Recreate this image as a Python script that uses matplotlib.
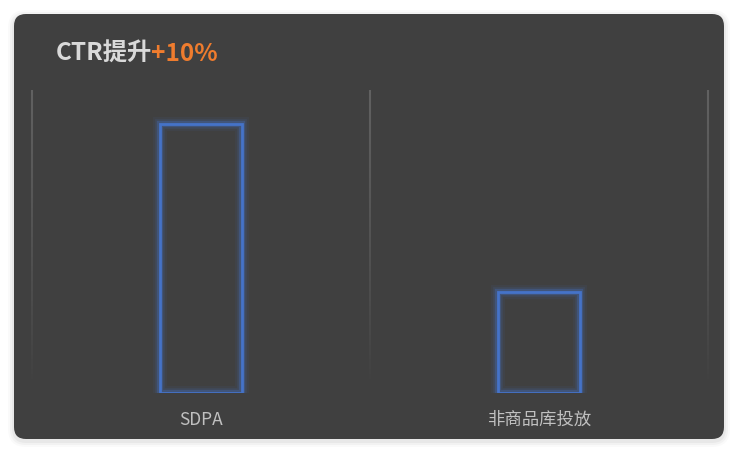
import matplotlib
matplotlib.use("Agg")
import matplotlib.pyplot as plt
import numpy as np
from matplotlib.patches import FancyBboxPatch
from matplotlib.collections import LineCollection
import matplotlib.patheffects as pe
import matplotlib.transforms as mtransforms

plt.rcParams['font.family'] = ['Noto Sans CJK SC', 'DejaVu Sans']

categories = ['SDPA', '非商品库投放']
values = [8, 3]
title_main = 'CTR提升'
title_accent = '+10%'

W, H = 738, 453
fig = plt.figure(figsize=(W / 100, H / 100), dpi=100)
fig.patch.set_facecolor('white')

# card shadow + card
for i, a in enumerate([0.02, 0.03, 0.04]):
    pad = (3 - i) * 2
    sh = FancyBboxPatch(((14 - pad) / W, (H - 439 - pad - 2) / H), (710 + 2 * pad) / W, (425 + 2 * pad) / H,
                        boxstyle=f"round,pad=0,rounding_size={(12 + pad) / W}",
                        transform=fig.transFigure, facecolor='black', edgecolor='none', alpha=a,
                        mutation_aspect=W / H, zorder=-3)
    fig.patches.append(sh)
card = FancyBboxPatch((14 / W, (H - 439) / H), 710 / W, 425 / H,
                      boxstyle=f"round,pad=0,rounding_size={12 / W}",
                      transform=fig.transFigure, facecolor='#404040', edgecolor='none',
                      mutation_aspect=W / H, zorder=-2)
fig.patches.append(card)

ax = fig.add_axes([32 / W, (H - 393) / H, 676 / W, 303 / H])
ax.set_facecolor('none')
ax.set_zorder(1)
ax.set_xlim(-0.5, len(categories) - 0.5)
ax.set_ylim(0, 9)
for s in ax.spines.values():
    s.set_visible(False)
ax.set_yticks([])

# gradient vertical grid lines
trans = mtransforms.blended_transform_factory(ax.transData, ax.transAxes)
n = 60
ys = np.linspace(0.03, 1.0, n + 1)
for xb in np.arange(-0.5, len(categories), 1.0):
    segs = [[(xb, ys[k]), (xb, ys[k + 1])] for k in range(n)]
    alphas = np.linspace(0.0, 1.0, n) ** 0.8
    cols = [(0.38, 0.38, 0.38, a) for a in alphas]
    lc = LineCollection(segs, colors=cols, linewidths=1.5, transform=trans, clip_on=False)
    ax.add_collection(lc)

blue = '#4573c8'
x = np.arange(len(categories))
bars = ax.bar(x, values, width=0.243, facecolor='none', edgecolor=blue, linewidth=2.0, zorder=3)
for b in bars:
    b.set_path_effects([
        pe.Stroke(linewidth=10, foreground=blue, alpha=0.07),
        pe.Stroke(linewidth=7, foreground=blue, alpha=0.13),
        pe.Stroke(linewidth=4.5, foreground=blue, alpha=0.3),
        pe.Normal(),
    ])

ax.set_xticks(x)
ax.set_xticklabels(categories, color='#c0c0c0', fontsize=12.5)
ax.tick_params(axis='x', length=0, pad=13)

t1 = fig.text(56 / W, (H - 61) / H, title_main, color='#d9d9d9', fontsize=17.5,
              fontweight='bold', ha='left', va='baseline')
fig.canvas.draw()
bb = t1.get_window_extent()
fig.text((bb.x1 - 1.5) / W, (H - 61) / H, title_accent, color='#ef7c2e', fontsize=17.5,
         fontweight='bold', ha='left', va='baseline')

fig.savefig('out.png', dpi=100, facecolor='white')
